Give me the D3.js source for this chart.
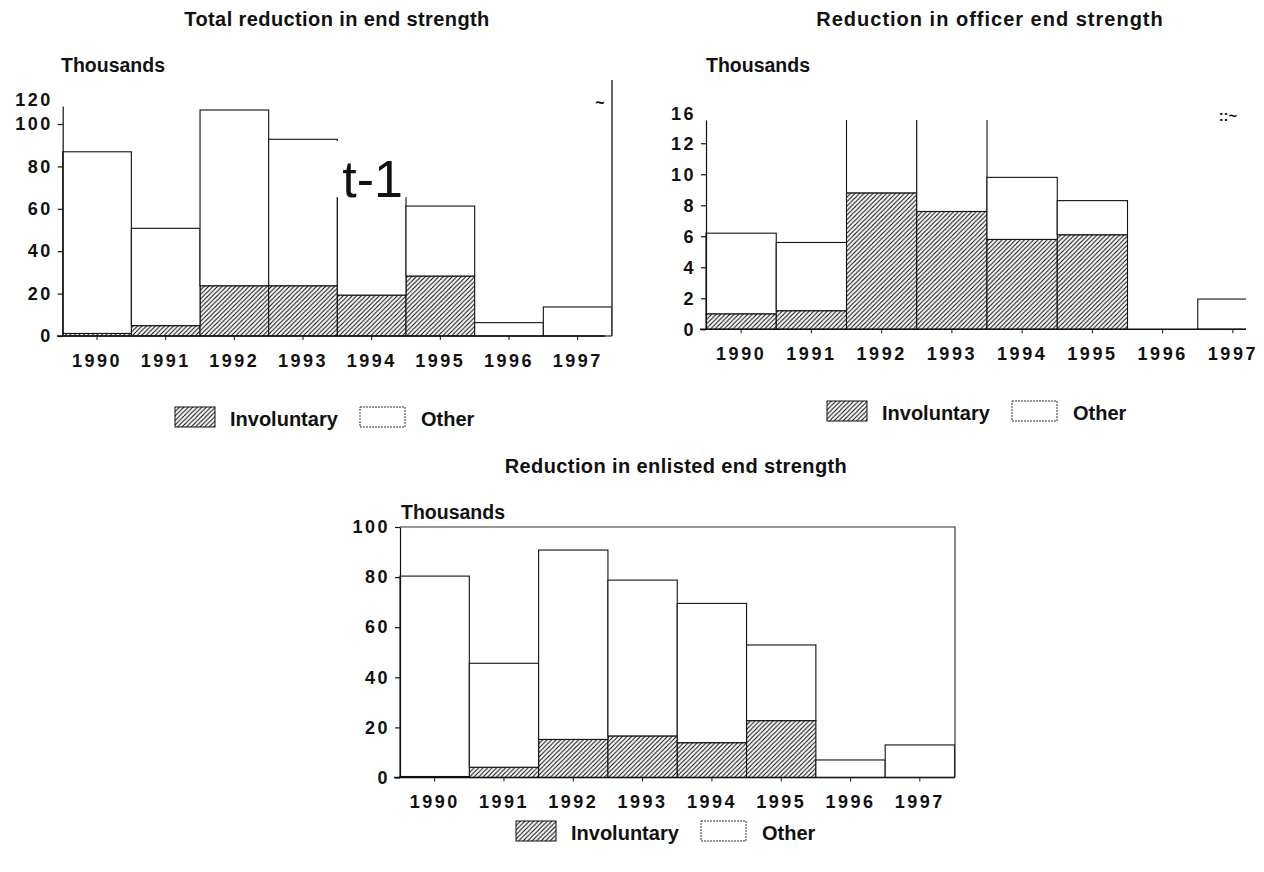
<!DOCTYPE html>
<html><head><meta charset="utf-8">
<script src="https://cdn.jsdelivr.net/npm/d3@7"></script>
<style>
html,body{margin:0;padding:0;background:#fff;}
svg{display:block;font-family:"Liberation Sans",Arial,Helvetica,sans-serif;}
</style></head><body>
<svg id="chart" width="1264" height="872"></svg>
<script>
// ---------- data ----------
const years = ["1990","1991","1992","1993","1994","1995","1996","1997"];
const seriesNames = ["Involuntary","Other"];
const totalInvoluntary    = [1.2, 4.9, 23.7, 23.7, 19.3, 28.3, 0, 0];
const totalOther          = [85.7, 45.9, 82.9, 69.1, 60.5, 33.0, 6.3, 13.7];
const officerInvoluntary  = [1.0, 1.2, 8.8, 7.6, 5.8, 6.1, 0, 0];
const officerOther        = [5.2, 4.4, 6.2, 6.4, 4.0, 2.2, 0, 1.95];
const enlistedInvoluntary = [0.4, 4.1, 15.2, 16.6, 13.9, 22.7, 0, 0];
const enlistedOther       = [80.0, 41.5, 75.6, 62.2, 55.6, 30.2, 7.0, 13.0];
const totalTicks    = [0, 20, 40, 60, 80, 100];
const officerTicks  = [0, 2, 4, 6, 8, 10, 12];
const enlistedTicks = [0, 20, 40, 60, 80, 100];
const totalTopLabel = "120";
const officerTopLabel = "16";
const titles = ["Total reduction in end strength",
                "Reduction in officer end strength",
                "Reduction in enlisted end strength"];
const unitLabel = "Thousands";

// ---------- drawing ----------
const svg = d3.select("#chart");
const defs = svg.append("defs");
const pat = defs.append("pattern").attr("id","hatch")
  .attr("patternUnits","userSpaceOnUse").attr("width",4.5).attr("height",4.5);
pat.append("rect").attr("width",4.5).attr("height",4.5).attr("fill","#fff");
pat.append("path").attr("d","M-1,1 L1,-1 M0,4.5 L4.5,0 M3.5,5.5 L5.5,3.5")
  .attr("stroke","#000").attr("stroke-width",1);

const ink = "#111";

const panels = [
  { title: titles[0], titleX: 337, titleY: 26, titleSpacing: 0.4,
    inv: totalInvoluntary, other: totalOther, ticks: totalTicks, topLabel: totalTopLabel,
    xRange: [62.7, 612], yRange: [336, 106], yMax: 108.5, clipRight: 612,
    baseLine: [57, 605], unitX: 61, unitY: 72, legend: [175, 407],
    rightBorderTop: 80 },
  { title: titles[1], titleX: 990, titleY: 26, titleSpacing: 1.0,
    inv: officerInvoluntary, other: officerOther, ticks: officerTicks, topLabel: officerTopLabel,
    xRange: [706, 1268], yRange: [329.3, 120], yMax: 13.5, clipRight: 1246,
    baseLine: [700, 1246], unitX: 706, unitY: 72, legend: [827, 401] },
  { title: titles[2], titleX: 676, titleY: 473, titleSpacing: 0.4,
    inv: enlistedInvoluntary, other: enlistedOther, ticks: enlistedTicks, topLabel: null,
    xRange: [400, 954.5], yRange: [777.5, 527], yMax: 100, clipRight: 955,
    baseLine: [394, 955], unitX: 401, unitY: 519, legend: [516, 821],
    frame: true }
];

panels.forEach((cfg, idx) => {
  const g = svg.append("g");
  const x = d3.scaleBand().domain(years).range(cfg.xRange).padding(0);
  const y = d3.scaleLinear().domain([0, cfg.yMax]).range(cfg.yRange);

  // title + unit label
  g.append("text").attr("x", cfg.titleX).attr("y", cfg.titleY)
    .attr("text-anchor","middle").attr("font-size",20).attr("font-weight","bold")
    .attr("letter-spacing", cfg.titleSpacing).attr("fill", ink).text(cfg.title);
  g.append("text").attr("x", cfg.unitX).attr("y", cfg.unitY)
    .attr("font-size",19.5).attr("font-weight","bold").attr("fill", ink).text(unitLabel);

  // bars
  const rows = years.map((yr,i) => ({year: yr, Involuntary: cfg.inv[i], Other: cfg.other[i]}));
  const stacked = d3.stack().keys(seriesNames)(rows);
  const clipId = "clip" + idx;
  defs.append("clipPath").attr("id", clipId).append("rect")
    .attr("x", cfg.xRange[0] - 2).attr("y", y.range()[1])
    .attr("width", cfg.clipRight - cfg.xRange[0] + 2)
    .attr("height", y.range()[0] - y.range()[1] + 2);
  const bars = g.append("g").attr("clip-path", `url(#${clipId})`);
  stacked.forEach(s => {
    bars.append("g").selectAll("rect").data(s).join("rect")
      .attr("x", d => x(d.data.year)).attr("width", x.bandwidth())
      .attr("y", d => y(d[1])).attr("height", d => y(d[0]) - y(d[1]))
      .attr("fill", s.key === "Involuntary" ? "url(#hatch)" : "#fff")
      .attr("stroke", ink).attr("stroke-width", 1.1)
      .attr("display", d => (d[1] - d[0]) > 0 ? null : "none");
  });

  // frame pieces
  if (cfg.rightBorderTop !== undefined) {
    g.append("line").attr("x1", cfg.xRange[1]).attr("x2", cfg.xRange[1])
      .attr("y1", cfg.rightBorderTop).attr("y2", y(0))
      .attr("stroke", "#333").attr("stroke-width", 1.5);
  }
  if (cfg.frame) {
    g.append("path")
      .attr("d", `M${cfg.xRange[0]},${y(cfg.yMax)} H${cfg.clipRight} V${y(0)}`)
      .attr("fill","none").attr("stroke","#333").attr("stroke-width",1.2);
  }

  // baseline
  g.append("line").attr("x1", cfg.baseLine[0]).attr("x2", cfg.baseLine[1])
    .attr("y1", y(0)).attr("y2", y(0)).attr("stroke", ink).attr("stroke-width", 1.5);

  // y axis
  const yg = g.append("g").attr("transform", `translate(${cfg.xRange[0]},0)`)
    .call(d3.axisLeft(y).tickValues(cfg.ticks).tickSize(5).tickSizeOuter(0).tickPadding(5));
  yg.attr("font-family", null).attr("font-size", 18);
  yg.select(".domain").attr("stroke", ink).attr("stroke-width", 1.2);
  yg.selectAll(".tick line").attr("stroke", ink).attr("stroke-width", 1.2);
  yg.selectAll(".tick text").attr("font-weight","bold").attr("letter-spacing", 2.5).attr("fill", ink);
  if (cfg.topLabel) {
    g.append("text").attr("x", cfg.xRange[0] - 10).attr("y", y.range()[1] - 6)
      .attr("dy","0.32em").attr("text-anchor","end").attr("font-size",18)
      .attr("font-weight","bold").attr("letter-spacing",2.5).attr("fill", ink).text(cfg.topLabel);
  }

  // x axis
  const xg = g.append("g").attr("transform", `translate(0,${y(0)})`)
    .call(d3.axisBottom(x).tickSize(4).tickSizeOuter(0).tickPadding(14));
  xg.select(".domain").remove();
  xg.attr("font-family", null).attr("font-size", 18);
  xg.selectAll(".tick line").attr("stroke", ink).attr("stroke-width", 1);
  xg.selectAll(".tick text").attr("font-weight","bold").attr("letter-spacing", 2.5).attr("fill", ink);

  // legend
  const lg = g.append("g").attr("transform", `translate(${cfg.legend[0]},${cfg.legend[1]})`);
  lg.append("rect").attr("width",40).attr("height",20).attr("fill","url(#hatch)")
    .attr("stroke", ink).attr("stroke-width",1);
  lg.append("text").attr("x",55).attr("y",19).attr("font-size",20).attr("font-weight","bold")
    .attr("fill", ink).text(seriesNames[0]);
  lg.append("rect").attr("x",185).attr("width",45).attr("height",20).attr("fill","#fff")
    .attr("stroke","#333").attr("stroke-width",1).attr("stroke-dasharray","2,1");
  lg.append("text").attr("x",246).attr("y",19).attr("font-size",20).attr("font-weight","bold")
    .attr("fill", ink).text(seriesNames[1]);

  // scan marks present in the source figure
  if (idx === 0) {
    g.append("rect").attr("x", x("1993") + x.bandwidth() - 2).attr("y", y(92))
      .attr("width", x.bandwidth() + 6).attr("height", y(65.5) - y(92)).attr("fill","#fff");
    g.append("text").attr("x", x("1994") + 5).attr("y", y(65.5))
      .attr("font-size", 52).attr("fill", ink).text("t-1");
    g.append("text").attr("x", cfg.xRange[1] - 12).attr("y", y.range()[1] + 2)
      .attr("text-anchor","middle").attr("font-size",16).attr("font-weight","bold").attr("fill", ink).text("~");
  }
  if (idx === 1) {
    g.append("text").attr("x", cfg.clipRight - 18).attr("y", y.range()[1] + 1)
      .attr("text-anchor","middle").attr("font-size",15).attr("font-weight","bold").attr("fill", ink).text("::~");
  }
});
</script>
</body></html>
